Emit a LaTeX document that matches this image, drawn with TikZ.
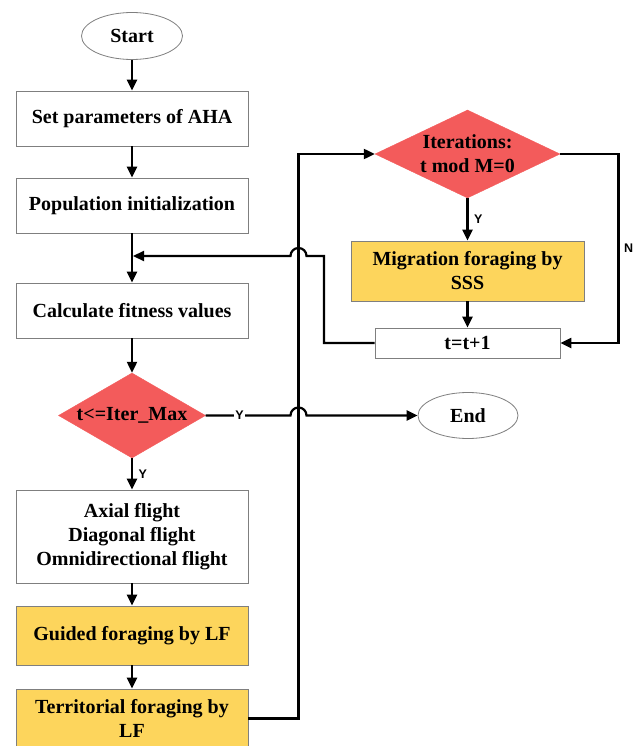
\documentclass[tikz,border=0pt]{standalone}
\usepackage{fontspec}
\setmainfont{Liberation Serif}
\newfontfamily\labelfont{Liberation Sans}
\usetikzlibrary{shapes.geometric,arrows.meta}

\definecolor{decred}{HTML}{F35B5B}
\definecolor{actyellow}{HTML}{FDD55C}
\definecolor{boxgray}{HTML}{7F7F7F}

\tikzset{
  basetext/.style={font=\fontsize{20}{24}\selectfont\bfseries, align=center, inner sep=0pt},
  procbox/.style={basetext, draw=boxgray, line width=0.8pt, fill=white,
                  minimum width=232pt, minimum height=55pt},
  yellowbox/.style={procbox, fill=actyellow},
  termnode/.style={basetext, ellipse, draw=boxgray, line width=0.8pt, fill=white,
                   minimum width=101pt, minimum height=47pt},
  decnode/.style={diamond, fill=decred, draw=decred, inner sep=0pt},
  conn/.style={line width=2.2pt, -{Triangle[length=11pt,width=10pt]}},
  ylabel/.style={font=\labelfont\bfseries\fontsize{12.5}{14}\selectfont, inner sep=1.5pt}
}

\begin{document}
\begin{tikzpicture}[x=1pt,y=-1pt]
\useasboundingbox (0,0) rectangle (638,746);

% main column
\node[termnode] (start) at (132,36) {Start};
\node[procbox] (setp) at (132,118.5) {Set parameters of AHA};
\node[procbox] (pop) at (132,205.5) {Population initialization};
\node[procbox] (fit) at (132,310.5) {Calculate fitness values};
\node[decnode, minimum width=147pt, minimum height=85pt] (cond) at (132,415.5) {};
\node[basetext] (condtxt) at (cond) {t<=Iter\_Max};
\node[procbox, minimum height=93pt] (axial) at (132,536.5)
  {Axial flight\\Diagonal flight\\Omnidirectional flight};
\node[yellowbox, minimum height=59pt] (guided) at (132,635.5) {Guided foraging by LF};
\node[yellowbox, minimum height=59pt] (terr) at (132,718.5) {Territorial foraging by\\LF};

% migration branch
\node[decnode, minimum width=185pt, minimum height=88pt] (iter) at (467.5,154) {};
\node[basetext] (itertxt) at (iter) {Iterations:\\t mod M=0};
\node[yellowbox, minimum width=233pt, minimum height=60pt] (migr) at (467.5,271)
  {Migration foraging by\\SSS};
\node[procbox, minimum width=185pt, minimum height=30pt] (tinc) at (467.5,343) {t=t+1};
\node[termnode, minimum width=100pt, minimum height=46pt] (end) at (468,415.5) {End};

% helper points for routing
\coordinate (loopx) at (298.5,0);
\coordinate (nx) at (618.5,0);
\coordinate (backx) at (324,0);
\coordinate (jumpA) at (290.5,415.5);
\coordinate (jumpB) at (306.5,256);
\coordinate (merge) at (133,256);

% connectors
\draw[conn] (start) -- (setp);
\draw[conn] (setp) -- (pop);
\draw[conn] (pop) -- (fit);
\draw[conn] (fit) -- (cond);
\draw[conn] (cond) -- node[ylabel, right=4pt] (ycond) {Y} (axial);
\draw[conn] (axial) -- (guided);
\draw[conn] (guided) -- (terr);
\draw[conn] (terr.east) -- (terr.east -| loopx) |- (iter.west);
\draw[conn] (cond.east) -- node[ylabel, fill=white, pos=0.4] (yend) {Y} (jumpA)
  arc[start angle=180, end angle=0, radius=8pt] -- (end.west);
\draw[conn] (iter) -- node[ylabel, right=4pt] (yiter) {Y} (migr);
\draw[conn] (migr) -- (tinc);
\draw[conn] (iter.east) -- (iter.east -| nx) |- node[ylabel, pos=0.25, right=3pt] (nlab) {N} (tinc.east);
\draw[conn] (tinc.west) -| (backx |- jumpB) -- (jumpB)
  arc[start angle=0, end angle=180, radius=8pt] -- (merge);
\end{tikzpicture}
\end{document}
